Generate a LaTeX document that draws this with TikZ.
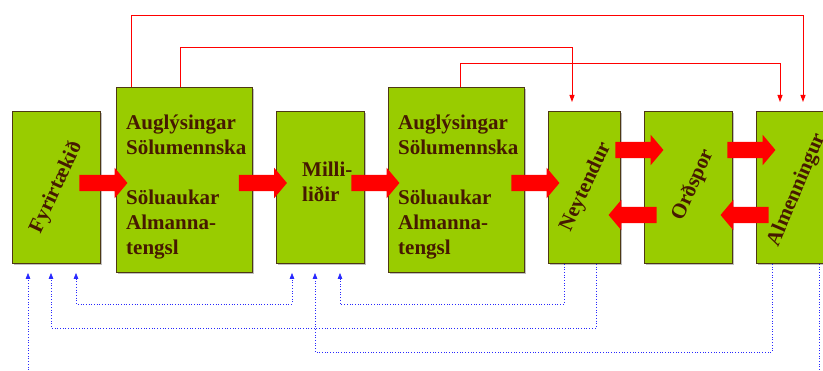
\documentclass[tikz,border=0pt]{standalone}
\usepackage{fontspec}
\setmainfont{Liberation Serif}
\usetikzlibrary{arrows.meta,shapes.arrows,shadows}

\definecolor{boxgreen}{RGB}{153,204,0}
\definecolor{boxedge}{RGB}{77,56,20}
\definecolor{txtbrown}{RGB}{70,25,0}
\definecolor{linkblue}{RGB}{40,40,255}

\tikzset{
  box/.style={draw=boxedge, fill=boxgreen, line width=0.9pt, anchor=north west, inner sep=0pt,
    drop shadow={shadow xshift=1.5pt, shadow yshift=-1.5pt, fill=black, opacity=0.25}},
  boxtext/.style={text=txtbrown, font=\bfseries\fontsize{21}{25}\selectfont, inner sep=0pt},
  fat/.style={single arrow, fill=red, draw=none, inner xsep=0pt, inner ysep=8pt, minimum height=48pt,
    single arrow head extend=7pt, single arrow tip angle=100, single arrow head indent=0pt},
  redlink/.style={draw=red, line width=0.9pt, -{Triangle[width=5pt,length=7pt]}, shorten >=9pt},
  bluelink/.style={draw=linkblue, dotted, line width=0.7pt, -{Triangle[width=4.5pt,length=6pt]}, shorten >=9pt},
}

\begin{document}
\begin{tikzpicture}[x=1pt, y=-1pt]

\useasboundingbox (0,0) rectangle (823,371);
\clip (0,0) rectangle (823,371);

%--------------------
% Boxes
%--------------------
\node[box, minimum width=88pt,  minimum height=152pt] (fyr)   at (12,111)  {};
\node[box, minimum width=136pt, minimum height=185pt] (aug1)  at (116,87)  {};
\node[box, minimum width=88pt,  minimum height=152pt] (milli) at (276,111) {};
\node[box, minimum width=136pt, minimum height=185pt] (aug2)  at (388,87)  {};
\node[box, minimum width=72pt,  minimum height=152pt] (ney)   at (548,111) {};
\node[box, minimum width=88pt,  minimum height=152pt] (ord)   at (644,111) {};
\node[box, minimum width=88pt,  minimum height=152pt] (alm)   at (756,111) {};

% Texts
\node[boxtext, rotate=65] (fyrtxt) at (fyr.center) {Fyrirtækið};
\node[boxtext, align=left, anchor=north west] (aug1txt) at (126,115)
  {Auglýsingar\\Sölumennska\\[25pt]Söluaukar\\Almanna-\\tengsl};
\node[boxtext, align=left, anchor=north west] (millitxt) at (302,162) {Milli-\\liðir};
\node[boxtext, align=left, anchor=north west] (aug2txt) at (398,115)
  {Auglýsingar\\Sölumennska\\[25pt]Söluaukar\\Almanna-\\tengsl};
\node[boxtext, rotate=65] (neytxt) at (586,187) {Neytendur};
\node[boxtext, rotate=66] (ordtxt) at (693,185) {Orðspor};
\node[boxtext, rotate=67] (almtxt) at (797,190) {Almenningur};

%--------------------
% Fat arrows
%--------------------
\node[fat] (f1) at (100,183) {};
\node[fat] (f2) at (259.5,183) {};
\node[fat] (f3) at (372,183) {};
\node[fat] (f4) at (532,183) {};
\node[fat] (f5) at (636,150) {};
\node[fat] (f6) at (748,150) {};
\node[fat, shape border rotate=180] (b5) at (636,215) {};
\node[fat, shape border rotate=180] (b6) at (748,215) {};

%--------------------
% Red links on top
%--------------------
\draw[redlink] ([xshift=15pt]aug1.north west) -- ++(0,-72) -| ([xshift=47pt]alm.north west);
\draw[redlink] ([xshift=64pt]aug1.north west) -- ++(0,-40) -| ([xshift=24pt]ney.north west);
\draw[redlink] ([xshift=72pt]aug2.north west) -- ++(0,-24) -| ([xshift=24pt]alm.north west);

%--------------------
% Blue dotted links below
%--------------------
\draw[bluelink, {Triangle[width=4.5pt,length=6pt]}-{Triangle[width=4.5pt,length=6pt]}, shorten <=9pt]
  ([xshift=64pt]fyr.south west) -- ++(0,40) -| ([xshift=16pt]milli.south west);
\draw[bluelink] ([xshift=16pt]ney.south west) -- ++(0,40) -| ([xshift=64pt]milli.south west);
\draw[bluelink] ([xshift=48pt]ney.south west) -- ++(0,64) -| ([xshift=39pt]fyr.south west);
\draw[bluelink] ([xshift=16pt]alm.south west) -- ++(0,88) -| ([xshift=39pt]milli.south west);
\draw[bluelink] ([xshift=63pt]alm.south west) -- ++(0,130) -| ([xshift=16pt]fyr.south west);

\end{tikzpicture}
\end{document}
